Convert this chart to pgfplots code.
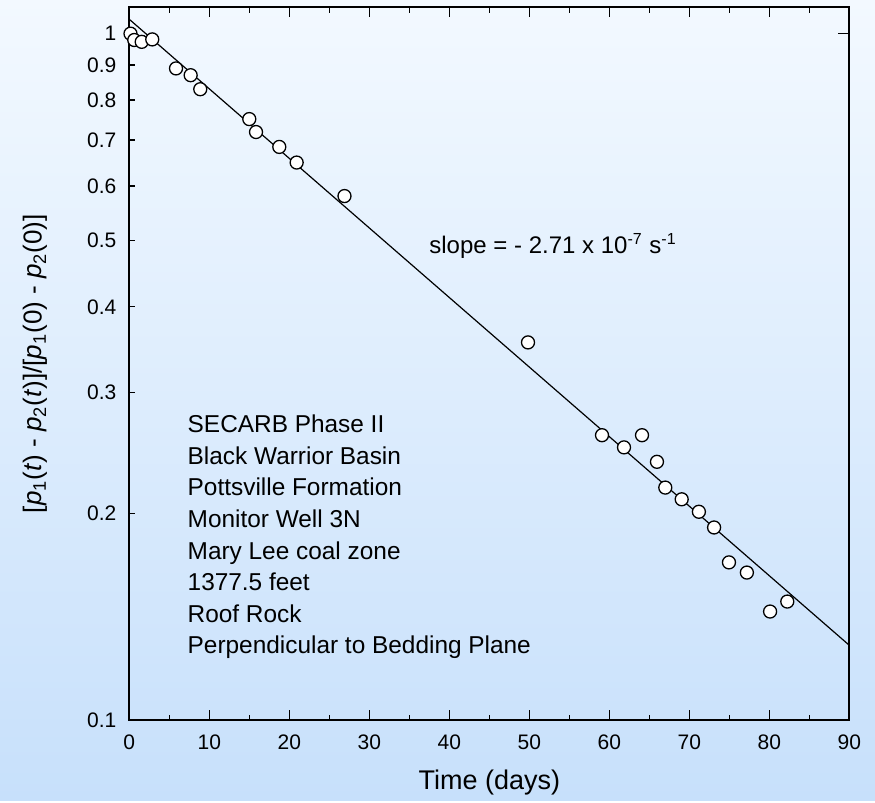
\documentclass[border=0pt]{standalone}
\usepackage{pgfplots}
\pgfplotsset{compat=1.18}
\usepackage{fontspec}
\setmainfont{Liberation Sans}

\definecolor{bgtop}{RGB}{243,249,255}
\definecolor{bgbottom}{RGB}{199,224,251}

\begin{document}
\begin{tikzpicture}
% page background with soft vertical gradient
\shade[top color=bgtop, bottom color=bgbottom] (0pt,0pt) rectangle (437.5pt,400pt);

\begin{axis}[
  at={(64.65pt,40pt)}, anchor=south west,
  scale only axis,
  width=360pt, height=356.35pt,
  xmin=0, xmax=90,
  ymode=log, ymin=0.1, ymax=1.0925,
  axis line style={line width=1pt},
  every tick/.style={black, line width=0.7pt},
  tick align=inside,
  xtick={0,10,...,90},
  minor x tick num=1,
  major tick length=5pt,
  minor tick length=2.6pt,
  ytick={0.1,0.2,0.3,0.4,0.5,0.6,0.7,0.8,0.9,1},
  yticklabels={0.1,0.2,0.3,0.4,0.5,0.6,0.7,0.8,0.9,1},
  minor ytick={},
  ytick style={/pgfplots/major tick length=2.85pt},
  ytick pos=left,
  log ticks with fixed point,
  /pgf/number format/assume math mode=true,
  ticklabel style={font=\fontsize{10.5}{12}\selectfont, inner sep=0pt},
  yticklabel style={xshift=-6.3pt},
  xticklabel style={yshift=-7pt},
  xlabel={Time (days)},
  xlabel style={font=\fontsize{13.5}{15}\selectfont, at={(axis description cs:0.5,-0.0884)}, anchor=center},
  ylabel={[\textit{p}\textsubscript{1}(\textit{t}) - \textit{p}\textsubscript{2}(\textit{t})]/[\textit{p}\textsubscript{1}(0) - \textit{p}\textsubscript{2}(0)]},
  ylabel style={font=\fontsize{13}{15}\selectfont, at={(axis description cs:-0.131,0.5)}, anchor=center, rotate=0},
]
% exponential fit, slope -2.71e-7 1/s
\addplot[black, line width=0.6pt, no markers] coordinates {(0,1.0495) (90,0.1285)};

% measured pressure-difference ratio
\addplot[only marks, mark=*, mark size=3.25pt,
  mark options={fill=white, draw=black, line width=0.65pt}]
  table[row sep=\\] {
  x y \\
  0.15 1.000 \\
  0.62 0.979 \\
  1.55 0.973 \\
  2.87 0.981 \\
  5.84 0.890 \\
  7.67 0.870 \\
  8.87 0.830 \\
  15.0 0.751 \\
  15.84 0.719 \\
  18.75 0.684 \\
  20.92 0.649 \\
  26.9 0.580 \\
  49.84 0.355 \\
  59.09 0.260 \\
  61.84 0.2496 \\
  64.09 0.260 \\
  65.96 0.2378 \\
  67.0 0.2181 \\
  69.05 0.2097 \\
  71.2 0.2011 \\
  73.1 0.1908 \\
  74.96 0.1697 \\
  77.2 0.164 \\
  80.1 0.1439 \\
  82.25 0.1488 \\
  };

% right-hand major tick at 1
\draw[black, line width=0.7pt] (axis cs:90,1) -- ++(-5.5pt,0pt);
\end{axis}

\node[anchor=base west, inner sep=0pt, font=\fontsize{12}{14}\selectfont]
  at (214.5pt,273.35pt) {slope = - 2.71 x 10\textsuperscript{-7} s\textsuperscript{-1}};

\foreach \txt [count=\i from 0] in {SECARB Phase II, Black Warrior Basin, Pottsville Formation,
  Monitor Well 3N, Mary Lee coal zone, 1377.5 feet, Roof Rock, Perpendicular to Bedding Plane}
  \node[anchor=base west, inner sep=0pt, font=\fontsize{12.2}{14}\selectfont]
    at (93.65pt,{(183.65-15.8*\i)*1pt}) {\txt};
\end{tikzpicture}
\end{document}
